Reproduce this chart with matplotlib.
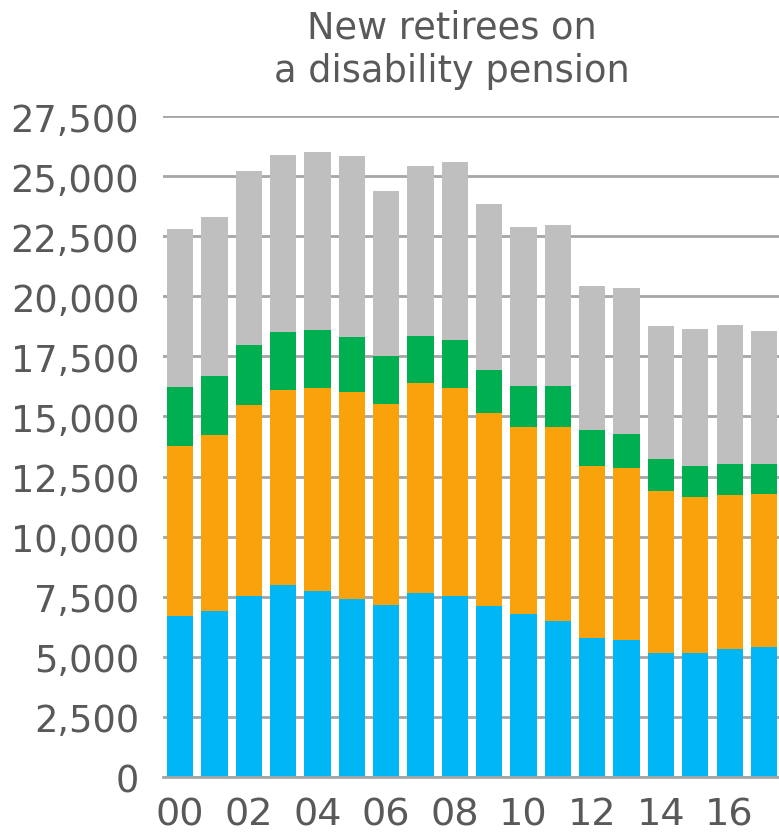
import matplotlib
matplotlib.use("Agg")
import matplotlib.pyplot as plt
import numpy as np

years = ["00", "01", "02", "03", "04", "05", "06", "07", "08",
         "09", "10", "11", "12", "13", "14", "15", "16", "17"]

# stacked segments, bottom to top
blue = [6700, 6890, 7540, 8000, 7750, 7420, 7170, 7670, 7530,
        7130, 6770, 6480, 5770, 5710, 5170, 5150, 5310, 5420]
orange = [7080, 7350, 7920, 8110, 8420, 8610, 8350, 8720, 8660,
          8000, 7790, 8080, 7170, 7140, 6710, 6500, 6420, 6350]
green = [2440, 2450, 2510, 2410, 2410, 2290, 1990, 1950, 1990,
         1800, 1710, 1710, 1510, 1430, 1350, 1270, 1300, 1250]
gray = [6590, 6620, 7240, 7340, 7410, 7510, 6870, 7090, 7390,
        6920, 6600, 6690, 5970, 6070, 5540, 5700, 5770, 5550]

yticks = [0, 2500, 5000, 7500, 10000, 12500, 15000, 17500, 20000, 22500, 25000, 27500]

txt = "#595959"
grid = "#A6A6A6"

plt.rcParams['font.family'] = ['DejaVu Sans']

fig = plt.figure(figsize=(7.79, 8.37), dpi=100)
ax = fig.add_axes([0.2092, 0.0705, 0.7908, 0.7897])

x = np.arange(len(years))
bottom = np.zeros(len(years))
for vals, col in [(blue, "#00B6F4"), (orange, "#F9A20B"),
                  (green, "#00AF50"), (gray, "#BFBFBF")]:
    ax.bar(x, vals, width=0.76, bottom=bottom, color=col, zorder=3)
    bottom += np.array(vals)

ax.set_xlim(-0.5, 17.44)
ax.set_ylim(0, 27500)
ax.set_yticks(yticks)
ax.set_yticklabels([f"{v:,}" for v in yticks])
ax.set_xticks(x[::2])
ax.set_xticklabels(years[::2])
ax.tick_params(axis='both', length=0, colors=txt)
ax.tick_params(axis='y', pad=17, labelsize=26.5)
ax.tick_params(axis='x', pad=14, labelsize=27.5)

ax.yaxis.grid(True, color=grid, linewidth=2, zorder=0)
ax.set_axisbelow(True)
for s in ["top", "right", "left"]:
    ax.spines[s].set_visible(False)
ax.spines["bottom"].set_color(grid)
ax.spines["bottom"].set_linewidth(2)
ax.spines["bottom"].set_zorder(4)

fig.text(0.58, 0.941, "New retirees on\na disability pension", ha="center",
         va="center", fontsize=26.5, color=txt, linespacing=1.22)

fig.savefig("out.png", dpi=100)
